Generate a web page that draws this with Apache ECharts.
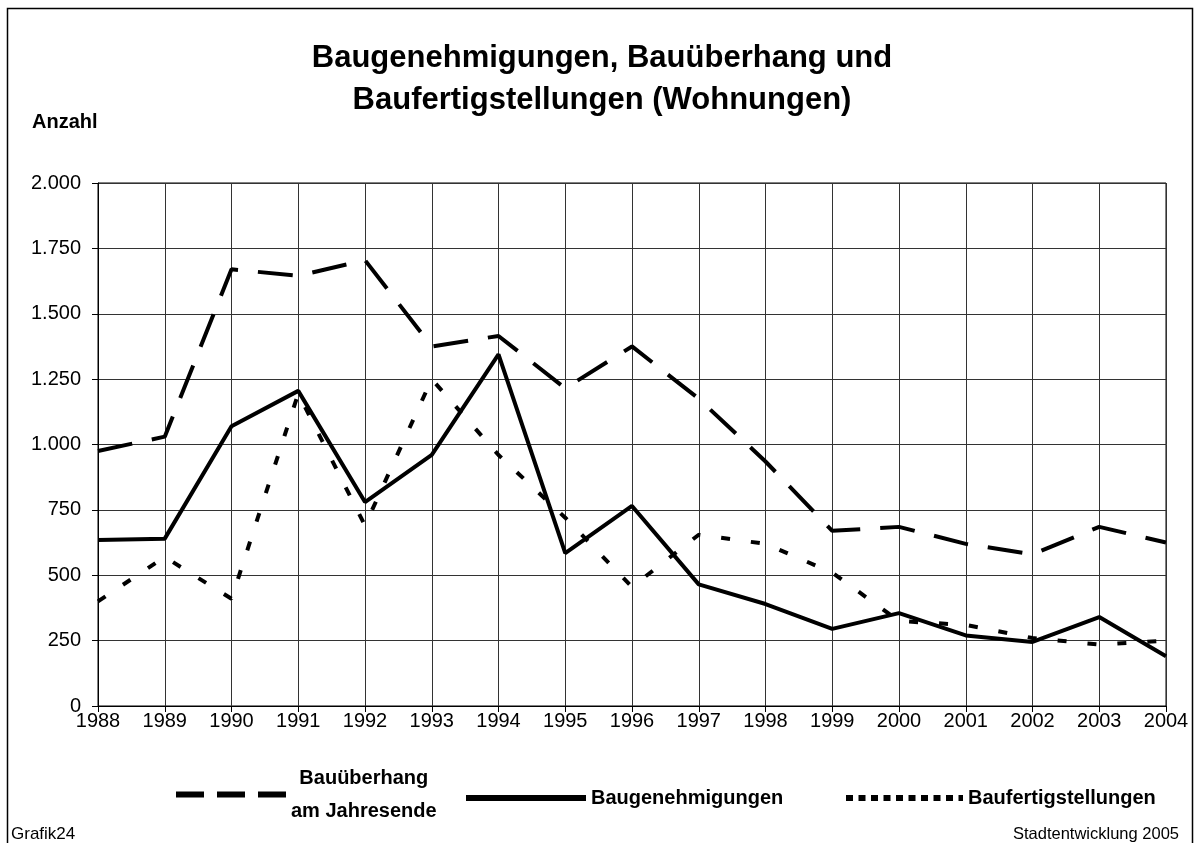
<!DOCTYPE html>
<html>
<head>
<meta charset="utf-8">
<script src="https://cdn.jsdelivr.net/npm/echarts@6/dist/echarts.min.js"></script>
<style>
  html, body { margin: 0; padding: 0; background: #fff; }
  #chart { width: 1194px; height: 843px; }
</style>
</head>
<body>
<div id="chart"></div>
<script>
var years = ['1988', '1989', '1990', '1991', '1992', '1993', '1994', '1995', '1996',
             '1997', '1998', '1999', '2000', '2001', '2002', '2003', '2004'];
var yTicks = [0, 250, 500, 750, 1000, 1250, 1500, 1750, 2000];

var ueberhang = [975, 1030, 1670, 1645, 1705, 1375, 1415, 1215, 1375,
                 1175, 935, 670, 685, 620, 580, 685, 625];
var genehmigungen = [635, 640, 1070, 1205, 780, 960, 1345, 585, 765,
                     465, 390, 295, 355, 270, 245, 340, 190];
var fertigstellungen = [400, 570, 410, 1195, 690, 1250, 960, 720, 455,
                        655, 620, 510, 325, 310, 260, 235, 250];

var names = ['Bauüberhang am Jahresende', 'Baugenehmigungen', 'Baufertigstellungen'];

var myChart = echarts.init(document.getElementById('chart'));

var fontFam = '"Liberation Sans", Arial, sans-serif';

// legend text style (bold, black)
var legText = { fontFamily: fontFam, fontSize: 20, fontWeight: 'bold', color: '#000' };

var option = {
    backgroundColor: '#fff',
    animation: false,
    title: [{
        text: 'Baugenehmigungen, Bauüberhang und\nBaufertigstellungen (Wohnungen)',
        left: 597,
        top: 32,
        textAlign: 'center',
        textStyle: {
            fontFamily: fontFam,
            fontSize: 31,
            fontWeight: 'bold',
            color: '#000',
            lineHeight: 42
        }
    }, {
        text: 'Anzahl',
        left: 27,
        top: 107,
        textStyle: { fontFamily: fontFam, fontSize: 20, fontWeight: 'bold', color: '#000' }
    }, {
        text: 'Grafik24',
        left: 6,
        top: 821,
        textStyle: { fontFamily: fontFam, fontSize: 17, fontWeight: 'normal', color: '#000' }
    }, {
        text: 'Stadtentwicklung 2005',
        right: 10,
        top: 821,
        textStyle: { fontFamily: fontFam, fontSize: 16.5, fontWeight: 'normal', color: '#000' }
    }],
    graphic: [{
        type: 'rect',
        shape: { x: 7.5, y: 8.5, width: 1185, height: 850 },
        style: { fill: 'none', stroke: '#000', lineWidth: 1.5 },
        silent: true
    }],
    legend: [{
        data: [names[0]],
        left: 173,
        top: 768,
        padding: 0,
        itemWidth: 110,
        itemHeight: 14,
        itemStyle: { opacity: 0 },
        lineStyle: { width: 6, type: [28, 13] },
        formatter: function () {
            return '{a|Bauüberhang}\n{a|am Jahresende}';
        },
        textStyle: {
            fontFamily: fontFam, fontSize: 20, fontWeight: 'bold', color: '#000',
            rich: { a: { fontFamily: fontFam, fontSize: 20, fontWeight: 'bold', color: '#000', align: 'center', lineHeight: 33 } }
        }
    }, {
        data: [names[1]],
        left: 463,
        top: 788,
        padding: 0,
        itemWidth: 120,
        itemHeight: 14,
        itemStyle: { opacity: 0 },
        lineStyle: { width: 6 },
        textStyle: legText
    }, {
        data: [names[2]],
        left: 843,
        top: 788,
        padding: 0,
        itemWidth: 117,
        itemHeight: 14,
        itemStyle: { opacity: 0 },
        lineStyle: { width: 6, type: [7, 5.5] },
        textStyle: legText
    }],
    grid: {
        left: 98,
        right: 28,
        top: 183,
        bottom: 137,
        show: true,
        borderColor: '#000',
        borderWidth: 1
    },
    xAxis: {
        type: 'category',
        data: years,
        boundaryGap: false,
        axisLine: { lineStyle: { color: '#000', width: 1 } },
        axisTick: { show: true, length: 6, lineStyle: { color: '#000' } },
        axisLabel: { color: '#000', fontFamily: fontFam, fontSize: 20, margin: 5 },
        splitLine: { show: true, lineStyle: { color: '#333', width: 1 } }
    },
    yAxis: {
        type: 'value',
        min: 0,
        max: 2000,
        interval: 250,
        axisLine: { show: true, lineStyle: { color: '#000', width: 1 } },
        axisTick: { show: true, length: 6, lineStyle: { color: '#000' } },
        axisLabel: {
            color: '#000', fontFamily: fontFam, fontSize: 20, margin: 17,
            formatter: function (v) {
                return yTicks.indexOf(v) >= 0 ? String(v).replace(/\B(?=(\d{3})+(?!\d))/g, '.') : '';
            }
        },
        splitLine: { show: true, lineStyle: { color: '#333', width: 1 } }
    },
    series: [{
        name: names[0],
        type: 'line',
        data: ueberhang,
        symbol: 'none',
        lineStyle: { color: '#000', width: 4, type: [35, 20] },
        itemStyle: { color: '#000' }
    }, {
        name: names[1],
        type: 'line',
        data: genehmigungen,
        symbol: 'none',
        lineStyle: { color: '#000', width: 4, type: 'solid' },
        itemStyle: { color: '#000' }
    }, {
        name: names[2],
        type: 'line',
        data: fertigstellungen,
        symbol: 'none',
        lineStyle: { color: '#000', width: 4, type: [9, 21] },
        itemStyle: { color: '#000' }
    }]
};

myChart.setOption(option);
</script>
</body>
</html>
